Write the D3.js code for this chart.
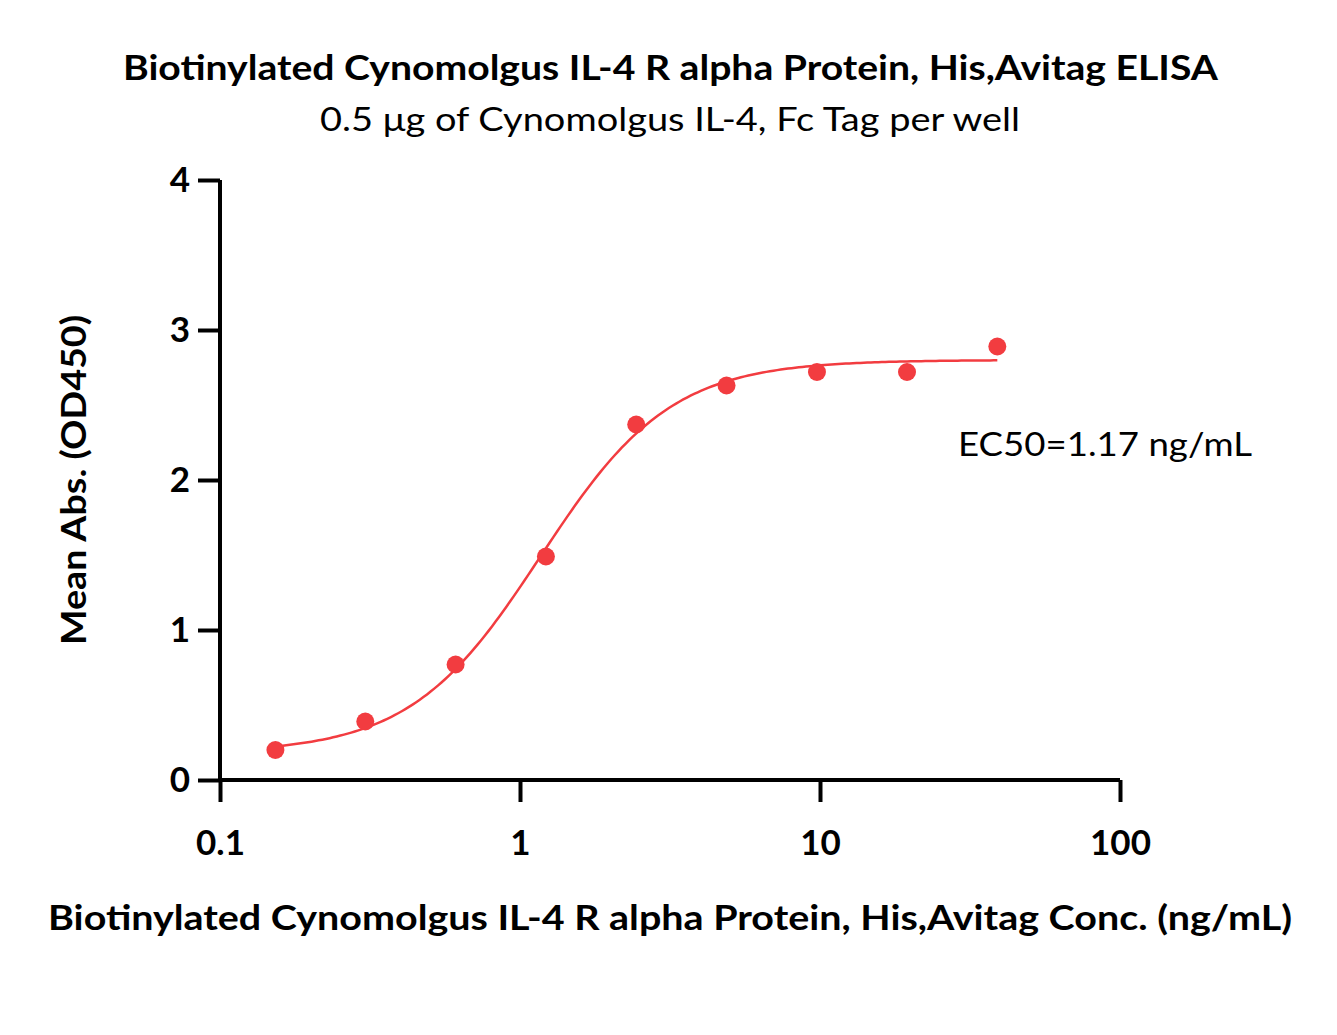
<!DOCTYPE html>
<html>
<head>
<meta charset="utf-8">
<script src="https://cdn.jsdelivr.net/npm/d3@7"></script>
<style>
  body { margin: 0; background: #fff; }
  text { font-family: Lato, "Open Sans", sans-serif; fill: #000; }
</style>
</head>
<body>
<div id="chart"></div>
<script>
// data
const concentrations = [0.153, 0.305, 0.61, 1.22, 2.44, 4.88, 9.77, 19.5, 39];
const absorbance = [0.20, 0.39, 0.77, 1.49, 2.37, 2.63, 2.72, 2.72, 2.89];
const xTicks = [0.1, 1, 10, 100];
const yTicks = [0, 1, 2, 3, 4];

// 4PL fit parameters (EC50 from the label)
const fitBottom = 0.18, fitTop = 2.80, fitEC50 = 1.17, fitHill = 2.0;

const width = 1337, height = 1035;
const margin = { left: 220, right: 217, top: 180, bottom: 255 };
const red = "#f23c40";

const svg = d3.select("#chart").append("svg")
  .attr("width", width).attr("height", height);

const x = d3.scaleLog().domain([0.1, 100]).range([margin.left, width - margin.right]);
const y = d3.scaleLinear().domain([0, 4]).range([height - margin.bottom, margin.top]);

// helper for text that has to fill a given width
const label = (px, py, size, weight, len, str) =>
  svg.append("text").attr("x", px).attr("y", py)
    .style("font-size", size + "px").style("font-weight", weight)
    .attr("textLength", len).attr("lengthAdjust", "spacingAndGlyphs")
    .text(str);

// titles
label(123, 80, 34, "bold", 1095, "Biotinylated Cynomolgus IL-4 R alpha Protein, His,Avitag ELISA");
label(320, 131, 32, "normal", 700, "0.5 \u03bcg of Cynomolgus IL-4, Fc Tag per well");

// axes
const xAxis = svg.append("g").attr("transform", `translate(0,${y(0)})`)
  .call(d3.axisBottom(x).tickValues(xTicks).tickFormat(d3.format("~g")).tickSize(22).tickPadding(28));
const yAxis = svg.append("g").attr("transform", `translate(${x(0.1)},0)`)
  .call(d3.axisLeft(y).tickValues(yTicks).tickFormat(d3.format("d")).tickSize(22).tickPadding(8));

[xAxis, yAxis].forEach(g => {
  g.select(".domain").attr("stroke", "#000").attr("stroke-width", 4);
  g.selectAll(".tick line").attr("stroke", "#000").attr("stroke-width", 4);
  g.selectAll(".tick text").style("font-size", "35px").style("font-weight", "bold")
    .style("font-family", "Lato, sans-serif").attr("fill", "#000");
});
xAxis.select(".domain").attr("d", `M${x(0.1)},0H${x(100)}`);
yAxis.select(".domain").attr("d", `M0,${y(4)}V${y(0)}`);

// axis titles
label(48, 930, 34, "bold", 1244, "Biotinylated Cynomolgus IL-4 R alpha Protein, His,Avitag Conc. (ng/mL)");
svg.append("text").attr("transform", "translate(86,645) rotate(-90)")
  .style("font-size", "34px").style("font-weight", "bold")
  .attr("textLength", 330).attr("lengthAdjust", "spacingAndGlyphs")
  .text("Mean Abs. (OD450)");

// fitted curve
const fit = c => fitBottom + (fitTop - fitBottom) / (1 + Math.pow(fitEC50 / c, fitHill));
const curveXs = d3.range(0, 201).map(i => Math.exp(Math.log(concentrations[0]) +
  i / 200 * (Math.log(concentrations[concentrations.length - 1]) - Math.log(concentrations[0]))));
svg.append("path").datum(curveXs)
  .attr("fill", "none").attr("stroke", red).attr("stroke-width", 2.5)
  .attr("d", d3.line().x(d => x(d)).y(d => y(fit(d))));

// points
svg.append("g").selectAll("circle").data(concentrations).join("circle")
  .attr("cx", d => x(d)).attr("cy", (d, i) => y(absorbance[i]))
  .attr("r", 9).attr("fill", red);

label(958, 456, 32, "normal", 294, "EC50=1.17 ng/mL");
</script>
</body>
</html>
